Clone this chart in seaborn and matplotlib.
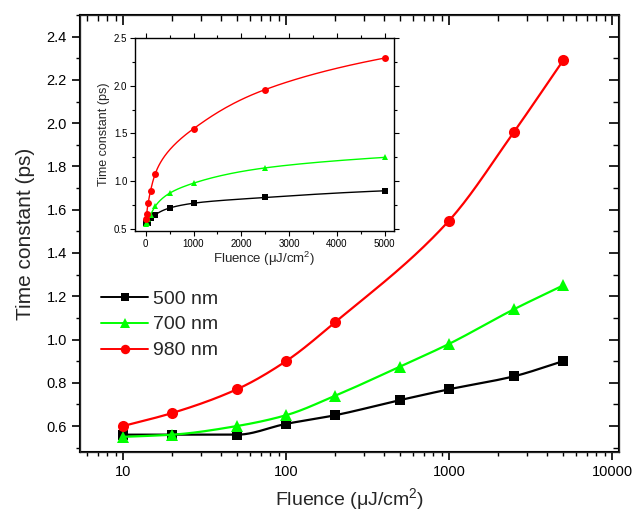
import matplotlib
matplotlib.use("Agg")
import matplotlib.pyplot as plt
from matplotlib.lines import Line2D
from matplotlib.ticker import MultipleLocator, LogLocator, NullFormatter, FixedLocator
import seaborn as sns
import numpy as np

# data
fluence = [10, 20, 50, 100, 200, 500, 1000, 2500, 5000]
tau_500 = [0.56, 0.56, 0.56, 0.61, 0.65, 0.72, 0.77, 0.83, 0.90]
tau_700 = [0.55, 0.56, 0.60, 0.65, 0.74, 0.875, 0.98, 1.14, 1.25]
fluence_980 = [10, 20, 50, 100, 200, 1000, 2500, 5000]
tau_980 = [0.60, 0.66, 0.77, 0.90, 1.08, 1.55, 1.96, 2.29]

labels = ['500 nm', '700 nm', '980 nm']
colors = ['#000000', '#00ff00', '#ff0000']
markers = ['s', '^', 'o']
msize_main = {'s': 7, '^': 8.5, 'o': 8}
msize_ins = {'s': 4.3, '^': 5, 'o': 5}


def smooth(x, y, n=200):
    # monotone cubic hermite through the points, in log10(x)
    lx = np.log10(np.asarray(x, float))
    y = np.asarray(y, float)
    h = np.diff(lx)
    d = np.diff(y) / h
    m = np.zeros_like(y)
    m[0], m[-1] = d[0], d[-1]
    for i in range(1, len(y) - 1):
        if d[i - 1] * d[i] <= 0:
            m[i] = 0
        else:
            w1 = 2 * h[i] + h[i - 1]
            w2 = h[i] + 2 * h[i - 1]
            m[i] = (w1 + w2) / (w1 / d[i - 1] + w2 / d[i])
    xs = np.linspace(lx[0], lx[-1], n)
    k = np.clip(np.searchsorted(lx, xs) - 1, 0, len(h) - 1)
    t = (xs - lx[k]) / h[k]
    h00 = 2 * t**3 - 3 * t**2 + 1
    h10 = t**3 - 2 * t**2 + t
    h01 = -2 * t**3 + 3 * t**2
    h11 = t**3 - t**2
    ys = h00 * y[k] + h10 * h[k] * m[k] + h01 * y[k + 1] + h11 * h[k] * m[k + 1]
    return 10**xs, ys


series = [(fluence, tau_500), (fluence, tau_700), (fluence_980, tau_980)]

sns.set_style("ticks")
plt.rcParams['font.family'] = ['Liberation Sans', 'DejaVu Sans']
plt.rcParams['mathtext.fontset'] = 'custom'
plt.rcParams['mathtext.rm'] = 'Liberation Sans'
plt.rcParams['mathtext.it'] = 'Liberation Sans:italic'

fig = plt.figure(figsize=(6.37, 5.12), dpi=100)
ax = fig.add_axes([0.1256, 0.1172, 0.8461, 0.8535])

for (x, y), c, mk in zip(series, colors, markers):
    xs, ys = smooth(x, y)
    sns.lineplot(x=xs, y=ys, ax=ax, color=c, lw=1.6, sort=False)
    ax.plot(x, y, linestyle='none', marker=mk, color=c, ms=msize_main[mk],
            markeredgewidth=0)

xlim = (5.45, 11000)
ylim = (0.48, 2.5)
xmajor = [10, 100, 1000, 10000]
yt = np.round(np.arange(0.6, 2.41, 0.2), 1)

ax.set_xscale('log')
ax.set_xlim(*xlim)
ax.set_ylim(*ylim)
ax.set_xticks(xmajor)
ax.set_xticklabels(['10', '100', '1000', '10000'])
ax.xaxis.set_minor_locator(LogLocator(base=10, subs=np.arange(2, 10), numticks=20))
ax.xaxis.set_minor_formatter(NullFormatter())
ax.set_yticks(yt)
ax.set_yticklabels([f'{v:.1f}' for v in yt])
ax.yaxis.set_minor_locator(MultipleLocator(0.1))
ax.tick_params(which='major', direction='out', length=6, width=1.2, labelsize=10.5,
               colors='black')
ax.tick_params(which='minor', direction='out', length=3, width=1.0, color='black')
for s in ax.spines.values():
    s.set_linewidth(1.5)
    s.set_color('black')

# mirrored inward ticks on top and right
top = ax.twiny()
top.set_xscale('log')
top.set_xlim(*xlim)
top.set_xticks(xmajor)
top.xaxis.set_minor_locator(LogLocator(base=10, subs=np.arange(2, 10), numticks=20))
top.tick_params(axis='x', which='both', direction='in', labeltop=False, color='black')
top.tick_params(axis='x', which='major', length=7, width=1.2)
top.tick_params(axis='x', which='minor', length=4, width=1.0)

right = ax.twinx()
right.set_ylim(*ylim)
right.set_yticks(yt)
right.yaxis.set_minor_locator(MultipleLocator(0.1))
right.tick_params(axis='y', which='both', direction='in', labelright=False, color='black')
right.tick_params(axis='y', which='major', length=7, width=1.2)
right.tick_params(axis='y', which='minor', length=4, width=1.0)

ax.set_xlabel('Fluence (μJ/cm$^2$)', fontsize=14, labelpad=5)
ax.set_ylabel('Time constant (ps)', fontsize=15, labelpad=8)

handles = [Line2D([], [], color=c, marker=mk, ms=msize_main[mk] * 0.85, lw=1.4,
                  markeredgewidth=0) for c, mk in zip(colors, markers)]
right.legend(handles, labels, loc='upper left', bbox_to_anchor=(0.007, 0.411), frameon=False,
             fontsize=14, handlelength=2.4, handletextpad=0.26, labelspacing=0.43)

# inset with linear fluence axis
ins = fig.add_axes([0.212, 0.549, 0.4065, 0.3768])
ins.set_zorder(5)
for (x, y), c, mk in zip(series, colors, markers):
    xs, ys = smooth(x, y)
    sns.lineplot(x=xs, y=ys, ax=ins, color=c, lw=1.0, sort=False)
    ins.plot(x, y, linestyle='none', marker=mk, color=c, ms=msize_ins[mk], markeredgewidth=0)
ins.set_xlim(-224, 5195)
ins.set_ylim(*ylim)
ins.xaxis.set_major_locator(MultipleLocator(1000))
ins.xaxis.set_minor_locator(MultipleLocator(500))
ins.yaxis.set_major_locator(MultipleLocator(0.5))
ins.yaxis.set_minor_locator(MultipleLocator(0.25))
ins.tick_params(which='major', direction='out', length=3.5, width=0.8, labelsize=7, pad=2,
                colors='black')
ins.tick_params(which='minor', direction='out', length=2, width=0.8, color='black')
ins.tick_params(which='both', top=True, right=True)
for s in ins.spines.values():
    s.set_linewidth(1.0)
    s.set_color('black')
ins.set_xlabel('Fluence (μJ/cm$^2$)', fontsize=9.5, labelpad=1)
ins.set_ylabel('Time constant (ps)', fontsize=9, labelpad=3)

fig.savefig('out.png', dpi=100)
